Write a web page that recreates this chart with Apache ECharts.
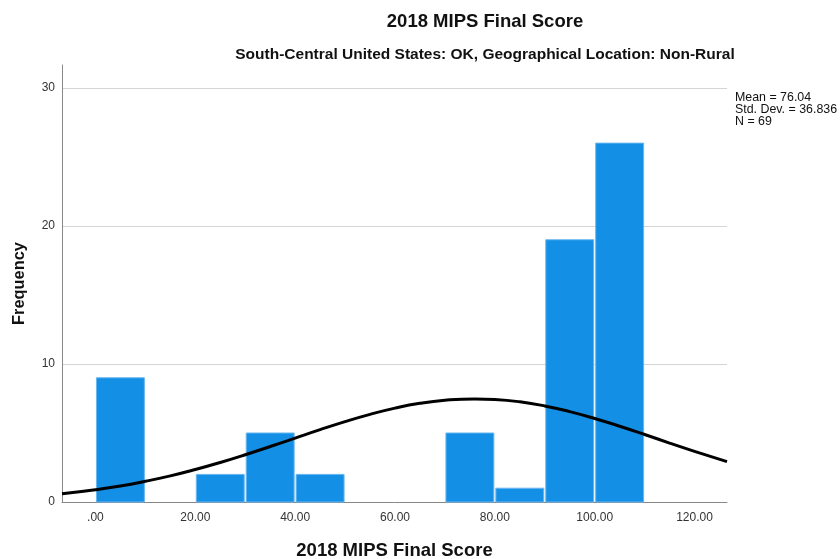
<!DOCTYPE html>
<html>
<head>
<meta charset="utf-8">
<script src="https://cdn.jsdelivr.net/npm/echarts@6/dist/echarts.min.js"></script>
<style>
html,body{margin:0;padding:0;background:#fff;}
#chart{width:840px;height:559px;}
</style>
</head>
<body>
<div id="chart"></div>
<script>
// Histogram bins (score ranges) and frequencies
var binStart = [0, 20, 30, 40, 70, 80, 90, 100];
var binEnd   = [10, 30, 40, 50, 80, 90, 100, 110];
var counts   = [9, 2, 5, 2, 5, 1, 19, 26];

// Normal curve
var curveX = [-6.7, 0, 5, 10, 15, 20, 25, 30, 35, 40, 45, 50, 55, 60, 65, 70, 76, 80, 85, 90, 95, 100, 105, 110, 115, 120, 126.5];
var curveY = [0.60, 0.89, 1.16, 1.50, 1.89, 2.35, 2.86, 3.42, 4.02, 4.63, 5.24, 5.82, 6.35, 6.80, 7.15, 7.37, 7.47, 7.43, 7.26, 6.96, 6.55, 6.05, 5.49, 4.89, 4.27, 3.67, 2.92];

var xTicks = [0, 20, 40, 60, 80, 100, 120];
var yTicks = [0, 10, 20, 30];

var titleText = '2018 MIPS Final Score';
var subtitleText = 'South-Central United States: OK, Geographical Location: Non-Rural';
var xName = '2018 MIPS Final Score';
var yName = 'Frequency';
var statsLines = ['Mean = 76.04', 'Std. Dev. = 36.836', 'N = 69'];

var barData = binStart.map(function (s, i) { return [s, binEnd[i], counts[i]]; });
var curveData = curveX.map(function (x, i) { return [x, curveY[i]]; });

var chart = echarts.init(document.getElementById('chart'), null, {renderer: 'canvas'});
var font = 'Arial, "Liberation Sans", sans-serif';

chart.setOption({
  animation: false,
  backgroundColor: '#fff',
  title: [
    {text: titleText, left: 480, top: 7, textAlign: 'center',
     textStyle: {fontFamily: font, fontSize: 18.5, fontWeight: 'bold', color: '#111'}},
    {text: subtitleText, left: 480, top: 42, textAlign: 'center',
     textStyle: {fontFamily: font, fontSize: 15.5, fontWeight: 'bold', color: '#111'}}
  ],
  graphic: [{
    type: 'text', left: 735, top: 92,
    style: {text: statsLines.join('\n'), font: '12.4px ' + font, fill: '#111', lineHeight: 12}
  }],
  grid: {left: 62, right: 113, top: 65, bottom: 57, containLabel: false, outerBoundsMode: 'none'},
  xAxis: {
    type: 'value', min: -6.7, max: 126.5,
    name: xName, nameLocation: 'middle', nameGap: 39,
    nameTextStyle: {fontFamily: font, fontSize: 18.5, fontWeight: 'bold', color: '#111'},
    axisLine: {show: true, onZero: false, lineStyle: {color: '#888', width: 1}},
    axisTick: {show: false, customValues: xTicks},
    axisLabel: {customValues: xTicks, margin: 10, fontFamily: font, fontSize: 12, color: '#333',
      formatter: function (v) { return v === 0 ? '.00' : v.toFixed(2); }},
    splitLine: {show: false}
  },
  yAxis: {
    type: 'value', min: 0, max: 31.66,
    name: yName, nameLocation: 'middle', nameGap: 35, nameRotate: 90,
    nameTextStyle: {fontFamily: font, fontSize: 16.4, fontWeight: 'bold', color: '#111'},
    axisLine: {show: true, onZero: false, lineStyle: {color: '#888', width: 1}},
    axisTick: {show: false, customValues: yTicks},
    axisLabel: {customValues: yTicks, margin: 7, fontFamily: font, fontSize: 12, color: '#333'},
    splitLine: {show: true, lineStyle: {color: '#d4d4d4', width: 1}}
  },
  series: [
    {
      type: 'custom',
      data: barData,
      z: 2,
      renderItem: function (params, api) {
        var p0 = api.coord([api.value(0), api.value(2)]);
        var p1 = api.coord([api.value(1), 0]);
        return {
          type: 'rect',
          shape: {x: p0[0] + 1, y: p0[1], width: p1[0] - p0[0] - 2, height: p1[1] - p0[1]},
          style: {fill: '#1390e6', stroke: '#6ab6f0', lineWidth: 1}
        };
      },
      encode: {x: [0, 1], y: 2}
    },
    {
      type: 'line',
      data: curveData,
      smooth: true,
      showSymbol: false,
      z: 5,
      lineStyle: {color: '#000', width: 3}
    }
  ]
});
</script>
</body>
</html>
